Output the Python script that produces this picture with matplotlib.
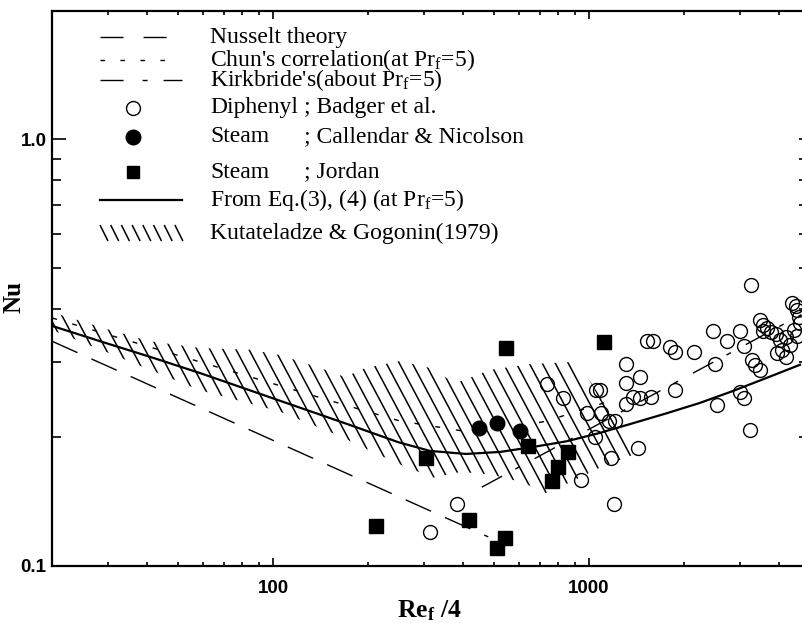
import matplotlib
matplotlib.use('Agg')
import matplotlib.pyplot as plt
import matplotlib.transforms as mtransforms
from matplotlib.patches import Polygon
from matplotlib.collections import LineCollection
from matplotlib.ticker import FixedLocator, NullFormatter, FixedFormatter
import numpy as np

plt.rcParams['font.family'] = ['Liberation Serif', 'DejaVu Serif']
plt.rcParams['mathtext.fontset'] = 'custom'
plt.rcParams['mathtext.rm'] = 'Liberation Serif'
plt.rcParams['mathtext.it'] = 'Liberation Serif:italic'
plt.rcParams['mathtext.bf'] = 'Liberation Serif:bold'

# Diphenyl ; Badger et al. (open circles)
diphenyl_re = [313, 382, 734, 827, 943, 986, 1044, 1052, 1087, 1091,
               1153, 1209, 1170, 1204, 1310, 1310, 1305, 1378, 1455, 1450,
               1429, 1571, 1526, 1594, 1811, 1878, 1878, 2149, 2469, 2504,
               2541, 2734, 3016, 3094, 3016, 3094, 3244, 3256, 3280, 3352,
               3476, 3476, 3566, 3658, 3553, 3780, 3920, 4021, 4217, 4326,
               4081, 4217, 3934, 4438, 4536, 4390, 4504, 4553, 4603, 4653]
diphenyl_nu = [0.120, 0.140, 0.267, 0.248, 0.159, 0.228, 0.200, 0.258, 0.258, 0.228,
               0.219, 0.219, 0.179, 0.140, 0.297, 0.268, 0.240, 0.249, 0.277, 0.248,
               0.189, 0.249, 0.337, 0.337, 0.326, 0.317, 0.258, 0.317, 0.355, 0.297,
               0.238, 0.336, 0.355, 0.327, 0.256, 0.247, 0.208, 0.454, 0.304, 0.296,
               0.287, 0.376, 0.366, 0.360, 0.355, 0.354, 0.350, 0.338, 0.344, 0.329,
               0.321, 0.309, 0.315, 0.357, 0.346, 0.414, 0.406, 0.398, 0.384, 0.370]

# Steam ; Callendar & Nicolson (filled circles)
callendar_re = [450, 512, 607]
callendar_nu = [0.210, 0.216, 0.207]

# Steam ; Jordan (filled squares)
jordan_re = [212, 306, 417, 512, 542, 546, 641, 764, 798, 858, 1115]
jordan_nu = [0.124, 0.179, 0.128, 0.110, 0.116, 0.324, 0.191, 0.158, 0.171, 0.185, 0.335]

# Nusselt theory
nusselt_re = [20, 480]
nusselt_nu = [0.336, 0.117]

# Chun's correlation (at Pr_f=5)
chun_re = [20, 165, 252, 399, 542, 737, 986, 1140]
chun_nu = [0.381, 0.2395, 0.2186, 0.2071, 0.2093, 0.2186, 0.2344, 0.2421]

# Kirkbride's (about Pr_f=5)
kirk_re = [458, 4700]
kirk_nu = [0.153, 0.388]

# From Eq.(3), (4) (at Pr_f=5)
eq_re = [20, 28.4, 40.8, 58.8, 100, 175, 249, 314, 408, 523, 665, 852,
         1083, 1378, 1765, 2245, 2856, 3659, 4653]
eq_nu = [0.365, 0.336, 0.309, 0.283, 0.247, 0.214, 0.195, 0.186, 0.183, 0.185,
         0.190, 0.196, 0.205, 0.216, 0.228, 0.241, 0.257, 0.276, 0.296]

# Kutateladze & Gogonin (1979) band
kg_upper_re = [20, 30.5, 40.8, 58.8, 84.6, 105, 141, 169, 196, 252, 314, 377,
               420, 486, 651, 916]
kg_upper_nu = [0.393, 0.357, 0.336, 0.324, 0.321, 0.312, 0.291, 0.277, 0.291, 0.302,
               0.291, 0.268, 0.276, 0.288, 0.297, 0.301]
kg_lower_re = [20, 35.3, 58.8, 105, 159, 247, 321, 391, 486, 618, 726, 871, 1083, 1429]
kg_lower_nu = [0.357, 0.301, 0.258, 0.230, 0.203, 0.174, 0.161, 0.166, 0.164, 0.157,
               0.148, 0.157, 0.170, 0.184]

W, H = 803, 623
fig = plt.figure(figsize=(W / 100, H / 100), dpi=100)
ax_w, ax_h = 755.0, 555.5
ax = fig.add_axes([52.1 / W, 57 / H, ax_w / W, ax_h / H])
ax.set_xscale('log')
ax.set_yscale('log')
ax.set_xlim(20, 4900)
ax.set_ylim(0.1, 2.0)

# hatched band, lines clipped to the region
band = Polygon(np.column_stack([kg_upper_re + kg_lower_re[::-1],
                                kg_upper_nu + kg_lower_nu[::-1]]),
               closed=True, facecolor='none', edgecolor='none')
ax.add_patch(band)
ang = np.deg2rad(62)
run = ax_h / np.tan(ang)
segs = []
for x0 in np.arange(-run, ax_w, 13.0):
    segs.append([(x0 / ax_w, 1.0), ((x0 + run) / ax_w, 0.0)])
hatch = LineCollection(segs, transform=ax.transAxes, colors='black', linewidths=1.1)
hatch.set_clip_path(band)
ax.add_collection(hatch, autolim=False)

ax.plot(nusselt_re, nusselt_nu, color='black', lw=1.0, dashes=(20, 11))
ax.plot(chun_re, chun_nu, color='black', lw=1.0, dashes=(3.6, 11.5))
ax.plot(kirk_re, kirk_nu, color='black', lw=1.0, dashes=(16.6, 10.8, 3.6, 12.2))
ax.plot(eq_re, eq_nu, color='black', lw=1.6)

ax.plot(diphenyl_re, diphenyl_nu, 'o', ms=10, mfc='none', mec='black', mew=1.0)
ax.plot(callendar_re, callendar_nu, 'o', ms=10.5, color='black')
ax.plot(jordan_re, jordan_nu, 's', ms=10, color='black')

# ticks
y_minor = [0.2, 0.3, 0.4, 0.5, 0.6, 0.7, 0.8, 0.9]
ax.xaxis.set_major_locator(FixedLocator([100, 1000]))
ax.xaxis.set_major_formatter(FixedFormatter(['100', '1000']))
ax.xaxis.set_minor_locator(FixedLocator([30, 40, 50, 60, 70, 80, 90, 200, 300, 400, 500,
                                         600, 700, 800, 900, 2000, 3000, 4000]))
ax.xaxis.set_minor_formatter(NullFormatter())
ax.yaxis.set_major_locator(FixedLocator([0.1, 1.0]))
ax.yaxis.set_major_formatter(FixedFormatter(['0.1', '1.0']))
ax.yaxis.set_minor_locator(FixedLocator(y_minor))
ax.yaxis.set_minor_formatter(NullFormatter())
ax.tick_params(axis='x', which='both', direction='in', top=True, bottom=True, width=1.2)
ax.tick_params(axis='x', which='major', length=5.8, pad=10)
ax.tick_params(axis='x', which='minor', length=3)
ax.tick_params(axis='y', which='both', direction='in', left=True, right=False, width=1.2)
ax.tick_params(axis='y', which='major', length=10, pad=4)
ax.tick_params(axis='y', which='minor', length=6.5)
for lab in ax.get_xticklabels() + ax.get_yticklabels():
    lab.set_family('Liberation Sans')
    lab.set_weight('bold')
    lab.set_fontsize(13.5)
for s in ax.spines.values():
    s.set_linewidth(1.6)

# short ticks on the right side (spine falls just outside the picture)
sec = ax.secondary_yaxis('right')
sec.yaxis.set_major_locator(FixedLocator([1.0]))
sec.yaxis.set_minor_locator(FixedLocator(y_minor))
sec.yaxis.set_major_formatter(NullFormatter())
sec.yaxis.set_minor_formatter(NullFormatter())
sec.tick_params(axis='y', which='both', direction='in', length=6, width=1.2)
sec.spines['right'].set_linewidth(1.6)

ax.set_xlabel(r'Re$_\mathbf{f}$ /4', fontsize=18.5, fontweight='bold', labelpad=1)
ax.set_ylabel('Nu', fontsize=18, fontweight='bold')
ax.yaxis.set_label_coords((26 - 52.1) / ax_w, (566 - 297) / ax_h)

# legend, drawn in picture pixels (origin top left)
pix = mtransforms.Affine2D().scale(1 / W, -1 / H).translate(0, 1) + fig.transFigure
rows = [37, 60, 80, 108, 137, 172, 200, 233]
fs = 17
ax.plot([100, 167], [rows[0]] * 2, transform=pix, clip_on=False, color='black', lw=1.0,
        dashes=(16.6, 14.4))
ax.plot([100, 165], [rows[1]] * 2, transform=pix, clip_on=False, color='black', lw=1.0,
        dashes=(3.2, 11.2))
ax.plot([100, 182], [rows[2]] * 2, transform=pix, clip_on=False, color='black', lw=1.0,
        dashes=(16.6, 13.7, 3.6, 11.5))
ax.plot([133], [rows[3]], 'o', transform=pix, clip_on=False, ms=10, mfc='none', mec='black', mew=1.0)
ax.plot([133], [rows[4]], 'o', transform=pix, clip_on=False, ms=10.5, color='black')
ax.plot([133], [rows[5]], 's', transform=pix, clip_on=False, ms=9, color='black')
ax.plot([100, 182], [rows[6]] * 2, transform=pix, clip_on=False, color='black', lw=1.6)
leg_hatch = [[(100 + i * 10.7, rows[7] - 8), (108 + i * 10.7, rows[7] + 8)] for i in range(8)]
ax.add_collection(LineCollection(leg_hatch, transform=pix, colors='black', linewidths=1.1,
                                 clip_on=False), autolim=False)

labels = ['Nusselt theory',
          r"Chun's correlation(at Pr$_{\rm f}$=5)",
          r"Kirkbride's(about Pr$_{\rm f}$=5)",
          'Diphenyl', 'Steam', 'Steam',
          r'From Eq.(3), (4) (at Pr$_{\rm f}$=5)',
          'Kutateladze & Gogonin(1979)']
for y, lab in zip(rows, labels):
    ax.text(210, y, lab, transform=pix, fontsize=fs, va='center', ha='left')
for y, lab in zip(rows[3:6], ['; Badger et al.', '; Callendar & Nicolson', '; Jordan']):
    ax.text(304, y, lab, transform=pix, fontsize=fs, va='center', ha='left')

fig.savefig('out.png', dpi=100)
